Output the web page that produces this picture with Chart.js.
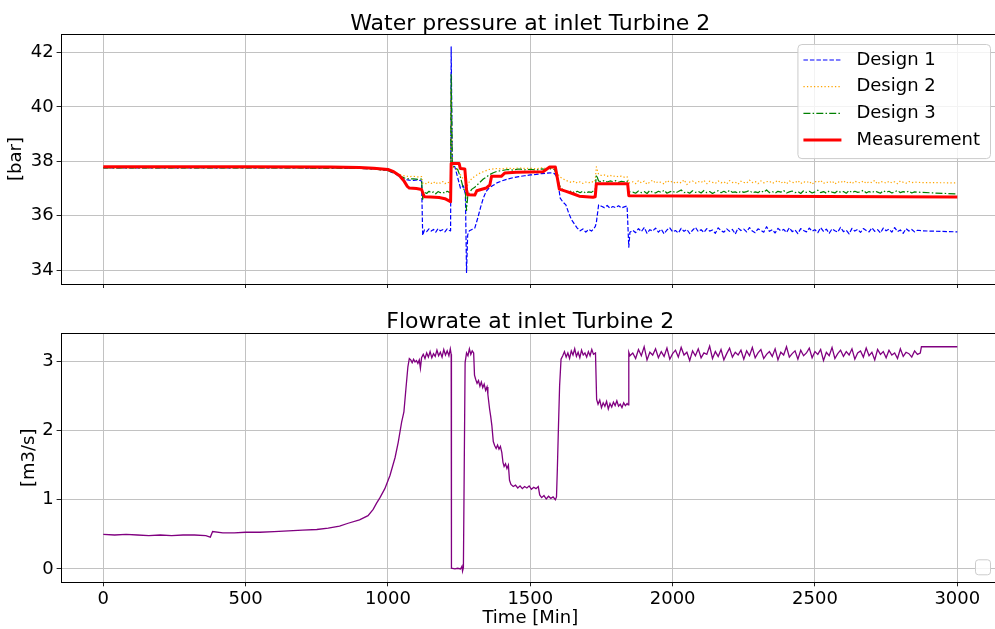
<!DOCTYPE html>
<html>
<head>
<meta charset="utf-8">
<title>Turbine 2 inlet</title>
<script src="https://cdn.jsdelivr.net/npm/chart.js@4.4.1/dist/chart.umd.min.js"></script>
<style>
  html, body { margin: 0; padding: 0; background: #fff; overflow: hidden; width: 995px; height: 629px; }
  #wrap { position: relative; width: 1000px; height: 629px; }
  #pressure { position: absolute; left: 0; top: 0; }
  #flow { position: absolute; left: 0; top: 300px; }
</style>
</head>
<body>
<div id="wrap">
  <canvas id="pressure" width="1000" height="300"></canvas>
  <canvas id="flow" width="1000" height="329"></canvas>
</div>
<script>
// ---- data (time in minutes) ----

const xTicks = [0, 500, 1000, 1500, 2000, 2500, 3000];
const pressureTicks = [34, 36, 38, 40, 42];
const flowTicks = [0, 1, 2, 3];

// long steady stretch after the last step, shared by both panels
const tailTime = [
  1860, 1870, 1880, 1890, 1900, 1910, 1920, 1930, 1940, 1950,
  1960, 1970, 1980, 1990, 2000, 2010, 2020, 2030, 2040, 2050,
  2060, 2070, 2080, 2090, 2100, 2110, 2120, 2130, 2140, 2150,
  2160, 2170, 2180, 2190, 2200, 2210, 2220, 2230, 2240, 2250,
  2260, 2270, 2280, 2290, 2300, 2310, 2320, 2330, 2340, 2350,
  2360, 2370, 2380, 2390, 2400, 2410, 2420, 2430, 2440, 2450,
  2460, 2470, 2480, 2490, 2500, 2510, 2520, 2530, 2540, 2550,
  2560, 2570, 2580, 2590, 2600, 2610, 2620, 2630, 2640, 2650,
  2660, 2670, 2680, 2690, 2700, 2710, 2720, 2730, 2740, 2750,
  2760, 2770, 2780, 2790, 2800, 2810, 2820, 2830, 2840, 2850,
  2860
];

// time grid shared by the three designs
const designTime = [
  0, 200, 400, 600, 800, 900, 950, 1000, 1025, 1045, 1060, 1075, 1090, 1105, 1118,
  1122, 1128, 1136, 1144, 1152, 1160, 1168, 1176, 1184, 1192, 1200, 1208, 1216,
  1220, 1222, 1226, 1235, 1245, 1255, 1265, 1272, 1276, 1280, 1286, 1295,
  1305, 1315, 1325, 1335, 1345, 1355, 1370, 1385, 1400, 1420, 1440, 1460, 1480, 1500, 1520, 1540, 1555, 1570, 1585,
  1595, 1605, 1615, 1625, 1635, 1645, 1655, 1665, 1675, 1685, 1695, 1705, 1715, 1722,
  1728, 1732, 1740, 1750, 1760, 1770, 1780, 1790, 1800, 1810, 1820, 1830, 1840,
  1846, 1850,
  ...tailTime,
  2875, 3000
];

const design1 = [
  37.76, 37.76, 37.76, 37.76, 37.75, 37.74, 37.72, 37.66, 37.55, 37.40, 37.33, 37.31, 37.30, 37.32, 37.28,
  35.28, 35.48, 35.42, 35.52, 35.44, 35.50, 35.40, 35.53, 35.45, 35.49, 35.41, 35.52, 35.46,
  35.45, 42.20, 37.85, 37.80, 37.40, 37.00, 37.10, 36.80, 33.92, 35.30, 35.45, 35.50,
  35.55, 35.90, 36.30, 36.65, 36.90, 37.02, 37.12, 37.22, 37.28, 37.35, 37.40, 37.44, 37.47, 37.50, 37.52, 37.55, 37.56, 37.58, 37.55,
  37.40, 36.65, 36.50, 36.40, 36.10, 35.85, 35.70, 35.55, 35.45, 35.52, 35.40, 35.50, 35.44, 35.52,
  35.60, 35.75, 36.40, 36.35, 36.30, 36.38, 36.28, 36.34, 36.30, 36.37, 36.29, 36.33, 36.36,
  34.85, 35.40,
  35.47, 35.38, 35.53, 35.42, 35.57, 35.36, 35.49, 35.44, 35.55, 35.40,
  35.51, 35.34, 35.48, 35.56, 35.41, 35.46, 35.37, 35.54, 35.43, 35.50,
  35.35, 35.47, 35.58, 35.42, 35.49, 35.39, 35.53, 35.44, 35.48, 35.36,
  35.56, 35.45, 35.40, 35.52, 35.43, 35.50, 35.33, 35.55, 35.46, 35.51,
  35.41, 35.57, 35.44, 35.38, 35.52, 35.47, 35.40, 35.60, 35.43, 35.49,
  35.37, 35.54, 35.45, 35.50, 35.39, 35.56, 35.42, 35.48, 35.35, 35.53,
  35.46, 35.41, 35.55, 35.44, 35.49, 35.38, 35.57, 35.43, 35.51, 35.36,
  35.52, 35.45, 35.40, 35.58, 35.42, 35.47, 35.34, 35.54, 35.44, 35.50,
  35.39, 35.53, 35.46, 35.41, 35.56, 35.43, 35.49, 35.37, 35.55, 35.45,
  35.51, 35.40, 35.57, 35.42, 35.48, 35.36, 35.53, 35.44, 35.50, 35.41,
  35.47,
  35.45, 35.41
];

const design2 = [
  37.76, 37.76, 37.76, 37.76, 37.75, 37.74, 37.72, 37.67, 37.58, 37.50, 37.46, 37.44, 37.45, 37.43, 37.44,
  37.20, 37.22, 37.16, 37.24, 37.19, 37.25, 37.17, 37.23, 37.20, 37.26, 37.18, 37.24, 37.21,
  37.25, 40.60, 37.80, 37.75, 37.65, 37.50, 37.35, 37.30, 36.90, 37.15, 37.25, 37.38,
  37.45, 37.52, 37.58, 37.62, 37.66, 37.70, 37.72, 37.74, 37.72, 37.75, 37.73, 37.76, 37.74, 37.75, 37.73, 37.76, 37.74, 37.76, 37.74,
  37.55, 37.42, 37.36, 37.30, 37.26, 37.22, 37.27, 37.20, 37.25, 37.19, 37.24, 37.21, 37.26, 37.23,
  37.30, 37.80, 37.52, 37.48, 37.50, 37.45, 37.49, 37.44, 37.47, 37.43, 37.46, 37.42, 37.44,
  37.20, 37.22,
  37.25, 37.18, 37.29, 37.21, 37.27, 37.16, 37.24, 37.31, 37.20, 37.26,
  37.22, 37.17, 37.30, 37.23, 37.27, 37.19, 37.25, 37.21, 37.32, 37.15,
  37.24, 37.28, 37.20, 37.26, 37.22, 37.30, 37.18, 37.27, 37.23, 37.19,
  37.28, 37.21, 37.25, 37.17, 37.29, 37.22, 37.24, 37.16, 37.27, 37.23,
  37.20, 37.31, 37.22, 37.26, 37.18, 37.28, 37.21, 37.25, 37.27, 37.19,
  37.24, 37.30, 37.20, 37.26, 37.17, 37.28, 37.23, 37.21, 37.29, 37.18,
  37.25, 37.22, 37.27, 37.16, 37.26, 37.23, 37.30, 37.19, 37.24, 37.21,
  37.28, 37.17, 37.25, 37.22, 37.29, 37.20, 37.26, 37.18, 37.27, 37.23,
  37.21, 37.28, 37.19, 37.25, 37.22, 37.30, 37.17, 37.26, 37.24, 37.20,
  37.27, 37.21, 37.25, 37.18, 37.28, 37.23, 37.20, 37.26, 37.22, 37.24,
  37.23,
  37.22, 37.21
];

const design3 = [
  37.76, 37.76, 37.76, 37.76, 37.75, 37.74, 37.72, 37.66, 37.56, 37.45, 37.38, 37.35, 37.36, 37.34, 37.35,
  36.60, 36.86, 36.82, 36.90, 36.84, 36.88, 36.81, 36.89, 36.85, 36.87, 36.83, 36.90, 36.86,
  36.86, 41.20, 37.85, 37.78, 37.70, 37.40, 37.00, 36.90, 36.20, 36.70, 36.85, 36.98,
  37.05, 37.15, 37.25, 37.35, 37.42, 37.50, 37.58, 37.64, 37.66, 37.70, 37.68, 37.72, 37.69, 37.71, 37.68, 37.72, 37.70, 37.73, 37.70,
  37.40, 37.05, 36.95, 36.90, 36.86, 36.92, 36.84, 36.90, 36.85, 36.91, 36.83, 36.88, 36.86, 36.92,
  36.95, 37.50, 37.28, 37.25, 37.30, 37.24, 37.28, 37.26, 37.29, 37.23, 37.27, 37.25, 37.28,
  36.84, 36.88,
  36.87, 36.83, 36.91, 36.85, 36.89, 36.82, 36.93, 36.86, 36.84, 36.90,
  36.86, 36.94, 36.83, 36.88, 36.91, 36.84, 36.89, 36.95, 36.85, 36.88,
  36.83, 36.92, 36.86, 36.90, 36.84, 36.93, 36.85, 36.89, 36.82, 36.88,
  36.92, 36.85, 36.90, 36.84, 36.94, 36.86, 36.88, 36.83, 36.91, 36.86,
  36.89, 36.93, 36.84, 36.88, 36.85, 36.92, 36.86, 36.95, 36.85, 36.89,
  36.83, 36.90, 36.87, 36.93, 36.84, 36.88, 36.91, 36.85, 36.89, 36.82,
  36.92, 36.86, 36.90, 36.84, 36.88, 36.94, 36.85, 36.89, 36.83, 36.91,
  36.87, 36.84, 36.92, 36.86, 36.89, 36.83, 36.93, 36.85, 36.90, 36.86,
  36.88, 36.94, 36.84, 36.89, 36.85, 36.91, 36.87, 36.83, 36.92, 36.86,
  36.90, 36.84, 36.88, 36.93, 36.85, 36.89, 36.86, 36.91, 36.84, 36.88,
  36.87,
  36.86, 36.80
];

const measTime = [
  0, 500, 800, 900, 950, 1000, 1020, 1040, 1055, 1068,
  1075, 1100, 1118, 1124, 1128, 1150, 1180, 1200, 1215, 1220,
  1222, 1250, 1254, 1270, 1276, 1280, 1305, 1312, 1345, 1358,
  1364, 1398, 1410, 1450, 1545, 1556, 1568, 1588, 1602, 1626,
  1650, 1672, 1720, 1728, 1732, 1842, 1846, 3000
];
const measurement = [
  37.80, 37.80, 37.79, 37.77, 37.75, 37.70, 37.62, 37.48, 37.30, 37.08,
  37.02, 37.00, 36.97, 36.80, 36.70, 36.69, 36.67, 36.63, 36.55, 36.52,
  37.92, 37.92, 37.74, 37.72, 36.95, 36.77, 36.76, 36.92, 37.02, 37.14,
  37.45, 37.45, 37.57, 37.60, 37.62, 37.70, 37.79, 37.79, 36.98, 36.90,
  36.81, 36.72, 36.68, 36.70, 37.18, 37.18, 36.74, 36.69
];

const flowTime = [
  0, 40, 80, 120, 160, 200, 240, 280, 320, 360,
  376, 384, 420, 460, 500, 550, 600, 650, 700, 750,
  790, 830, 860, 900, 930, 948, 960, 972, 989, 1007,
  1025, 1036, 1048, 1056, 1063, 1070, 1075,
  1080, 1085, 1090, 1095, 1100, 1105, 1110, 1114, 1118, 1124,
  1130, 1136, 1142, 1148, 1154, 1160, 1166, 1172, 1178, 1184,
  1190, 1196, 1202, 1208, 1214, 1219, 1222,
  1223, 1235, 1245, 1255, 1260, 1262, 1265, 1268,
  1271, 1276, 1281, 1286, 1291, 1296, 1301, 1304, 1308, 1313,
  1318, 1323, 1328, 1333, 1338, 1343, 1348, 1351, 1357, 1361,
  1365, 1370, 1375, 1380, 1385, 1390, 1395, 1400, 1404, 1408,
  1413, 1418, 1423, 1427, 1432, 1440, 1448, 1456, 1464, 1472,
  1480, 1488, 1496, 1504, 1512, 1520, 1528, 1533, 1540, 1548,
  1556, 1564, 1572, 1580, 1588, 1592, 1595, 1599, 1603, 1608,
  1614, 1620, 1626, 1632, 1638, 1644, 1650, 1656, 1662, 1668,
  1674, 1680, 1686, 1692, 1698, 1704, 1710, 1716, 1722, 1729,
  1733, 1738, 1744, 1750, 1756, 1762, 1768, 1774, 1780, 1786,
  1792, 1798, 1804, 1810, 1816, 1822, 1828, 1834, 1840, 1844,
  1846, 1850,
  ...tailTime,
  2870, 2874, 3000
];
const flowrate = [
  0.50, 0.49, 0.50, 0.49, 0.48, 0.49, 0.48, 0.49, 0.49, 0.48,
  0.46, 0.54, 0.52, 0.52, 0.53, 0.53, 0.54, 0.55, 0.56, 0.57,
  0.59, 0.62, 0.66, 0.71, 0.77, 0.86, 0.95, 1.03, 1.16, 1.35,
  1.61, 1.83, 2.12, 2.27, 2.60, 2.92, 3.04,
  3.02, 2.98, 3.03, 2.99, 3.01, 2.97, 3.02, 2.90, 3.05, 3.10,
  3.04, 3.12, 3.06, 3.14, 3.05, 3.11, 3.07, 3.16, 3.08, 3.13,
  3.06, 3.17, 3.09, 3.15, 3.08, 3.18, 3.10,
  0.01, 0.00, 0.01, 0.00, 0.04, -0.03, 0.02, 1.50,
  2.98, 3.12, 3.08, 3.18, 3.10, 3.15, 3.12, 2.80, 2.74, 2.68,
  2.72, 2.64, 2.70, 2.62, 2.67, 2.58, 2.63, 2.52, 2.31, 2.20,
  2.07, 1.84, 1.78, 1.74, 1.79, 1.73, 1.77, 1.68, 1.54, 1.48,
  1.52, 1.45, 1.50, 1.28, 1.22, 1.19, 1.21, 1.17, 1.20, 1.16,
  1.19, 1.17, 1.20, 1.15, 1.18, 1.16, 1.19, 1.07, 1.03, 1.06,
  1.01, 1.05, 1.02, 1.04, 1.00, 1.04, 1.44, 2.07, 2.65, 3.03,
  3.08, 3.14, 3.06, 3.12, 3.04, 3.15, 3.09, 3.18, 3.07, 3.13,
  3.05, 3.16, 3.09, 3.12, 3.06, 3.14, 3.08, 3.17, 3.10, 3.12,
  2.45, 2.38, 2.44, 2.33, 2.40, 2.35, 2.42, 2.31, 2.39, 2.34,
  2.41, 2.36, 2.43, 2.35, 2.38, 2.33, 2.40, 2.36, 2.39, 2.37,
  3.13, 3.08,
  3.12, 3.04, 3.17, 3.08, 3.21, 3.02, 3.13, 3.09, 3.18, 3.05,
  3.14, 3.07, 3.19, 3.03, 3.11, 3.16, 3.06, 3.20, 3.09, 3.13,
  3.01, 3.15, 3.08, 3.18, 3.05, 3.12, 3.10, 3.22, 3.04, 3.14,
  3.07, 3.17, 3.02, 3.11, 3.19, 3.06, 3.13, 3.09, 3.16, 3.03,
  3.15, 3.08, 3.20, 3.05, 3.12, 3.17, 3.04, 3.10, 3.14, 3.07,
  3.18, 3.02, 3.13, 3.09, 3.21, 3.06, 3.11, 3.15, 3.03, 3.16,
  3.08, 3.12, 3.19, 3.05, 3.14, 3.10, 3.17, 3.01, 3.13, 3.08,
  3.20, 3.04, 3.11, 3.16, 3.07, 3.14, 3.09, 3.18, 3.03, 3.12,
  3.15, 3.06, 3.19, 3.08, 3.13, 3.02, 3.17, 3.10, 3.14, 3.05,
  3.16, 3.09, 3.12, 3.04, 3.18, 3.07, 3.13, 3.11, 3.06, 3.15,
  3.10,
  3.12, 3.21, 3.21
];

// ---- helpers ----

const FONT = 'DejaVu Sans';
Chart.defaults.font.family = FONT;
Chart.defaults.font.size = 18;
Chart.defaults.color = '#000';

function pairs(xs, ys) {
  return xs.map((x, i) => ({x: x, y: ys[i]}));
}

// frame, title and in-axes legend, drawn the way matplotlib places them
const figureDecor = {
  id: 'figureDecor',
  afterDraw(chart, args, opts) {
    const ctx = chart.ctx;
    const a = chart.chartArea;
    ctx.save();

    ctx.strokeStyle = '#000';
    ctx.lineWidth = 1;
    ctx.strokeRect(Math.round(a.left) + 0.5, Math.round(a.top) + 0.5,
      Math.round(a.right - a.left), Math.round(a.bottom - a.top));

    ctx.fillStyle = '#000';
    ctx.font = '22px "' + FONT + '"';
    ctx.textAlign = 'center';
    ctx.textBaseline = 'alphabetic';
    ctx.fillText(opts.title, (a.left + a.right) / 2, opts.titleY);

    if (opts.legend) {
      const items = chart.data.datasets;
      ctx.font = '18px "' + FONT + '"';
      let textW = 0;
      items.forEach(ds => { textW = Math.max(textW, ctx.measureText(ds.label).width); });
      const w = 6 + 38 + 15 + textW + 10;
      const h = 16 + 26.7 * (items.length - 1) + 18;
      const x0 = a.right - 10 - w;
      const y0 = a.top + 10;
      ctx.beginPath();
      ctx.roundRect(x0 + 0.5, y0 + 0.5, w, h, 4);
      ctx.fillStyle = 'rgba(255,255,255,0.8)';
      ctx.fill();
      ctx.strokeStyle = '#cccccc';
      ctx.stroke();

      // legend follows the drawing order of the lines, top to bottom
      items.slice().sort((p, q) => q.order - p.order).forEach((ds, i) => {
        const y = y0 + 16 + i * 26.7;
        ctx.beginPath();
        ctx.setLineDash(ds.borderDash || []);
        ctx.strokeStyle = ds.borderColor;
        ctx.lineWidth = ds.borderWidth;
        ctx.moveTo(x0 + 6, y);
        ctx.lineTo(x0 + 44, y);
        ctx.stroke();
        ctx.setLineDash([]);
        ctx.fillStyle = '#000';
        ctx.textAlign = 'left';
        ctx.textBaseline = 'middle';
        ctx.fillText(ds.label, x0 + 59, y);
      });
    }

    if (opts.emptyLegend) {
      ctx.beginPath();
      ctx.roundRect(a.right - 25 + 0.5, a.bottom - 23 + 0.5, 15, 15, 3);
      ctx.fillStyle = 'rgba(255,255,255,0.8)';
      ctx.fill();
      ctx.strokeStyle = '#cccccc';
      ctx.lineWidth = 1;
      ctx.stroke();
    }
    ctx.restore();
  }
};

function xScale(showLabels, height) {
  return {
    type: 'linear',
    min: -150,
    max: 3150,
    afterBuildTicks: s => { s.ticks = xTicks.map(v => ({value: v})); },
    afterFit: s => { s.height = height; },
    ticks: {display: showLabels, padding: 2, maxRotation: 0, callback: v => String(v)},
    grid: {color: '#c2c2c2', lineWidth: 1, tickLength: 4, tickColor: '#222'},
    border: {display: false},
    title: {display: showLabels, text: 'Time [Min]', padding: {top: 0, bottom: 0}}
  };
}

function yScale(min, max, tickList, label, titlePad) {
  return {
    min: min,
    max: max,
    afterBuildTicks: s => { s.ticks = tickList.map(v => ({value: v})); },
    afterFit: s => { s.width = 60.6; },
    ticks: {padding: 3, callback: v => String(v)},
    grid: {color: '#c2c2c2', lineWidth: 1, tickLength: 4, tickColor: '#222'},
    border: {display: false},
    title: {display: true, text: label, padding: {top: titlePad, bottom: 0}}
  };
}

// ---- top: pressure ----

new Chart(document.getElementById('pressure'), {
  type: 'line',
  data: {
    datasets: [
      {label: 'Design 1', data: pairs(designTime, design1), borderColor: '#0000ff',
        borderWidth: 1.2, borderDash: [4.5, 2], order: 3},
      {label: 'Design 2', data: pairs(designTime, design2), borderColor: '#ffa500',
        borderWidth: 1.2, borderDash: [1.3, 2.2], order: 2},
      {label: 'Design 3', data: pairs(designTime, design3), borderColor: '#008000',
        borderWidth: 1.2, borderDash: [7, 2.2, 1.5, 2.2], order: 1},
      {label: 'Measurement', data: pairs(measTime, measurement), borderColor: '#ff0000',
        borderWidth: 3, order: 0}
    ]
  },
  options: {
    responsive: false,
    animation: false,
    layout: {padding: {top: 34, left: 0, right: 0, bottom: 0}},
    elements: {point: {radius: 0}, line: {tension: 0, borderJoinStyle: 'round'}},
    scales: {
      x: xScale(false, 16),
      y: yScale(33.497, 42.675, pressureTicks, '[bar]', 6)
    },
    plugins: {
      legend: {display: false},
      tooltip: {enabled: false},
      figureDecor: {title: 'Water pressure at inlet Turbine 2', titleY: 30, legend: true}
    }
  },
  plugins: [figureDecor]
});

// ---- bottom: flowrate ----

new Chart(document.getElementById('flow'), {
  type: 'line',
  data: {
    datasets: [
      {label: 'Flowrate', data: pairs(flowTime, flowrate), borderColor: '#800080', borderWidth: 1.3}
    ]
  },
  options: {
    responsive: false,
    animation: false,
    layout: {padding: {top: 33.3, left: 0, right: 0, bottom: 0}},
    elements: {point: {radius: 0}, line: {tension: 0}},
    scales: {
      x: xScale(true, 46.7),
      y: yScale(-0.193, 3.404, flowTicks, '[m3/s]', 18.7)
    },
    plugins: {
      legend: {display: false},
      tooltip: {enabled: false},
      figureDecor: {title: 'Flowrate at inlet Turbine 2', titleY: 28.3, legend: false, emptyLegend: true}
    }
  },
  plugins: [figureDecor]
});
</script>
</body>
</html>
